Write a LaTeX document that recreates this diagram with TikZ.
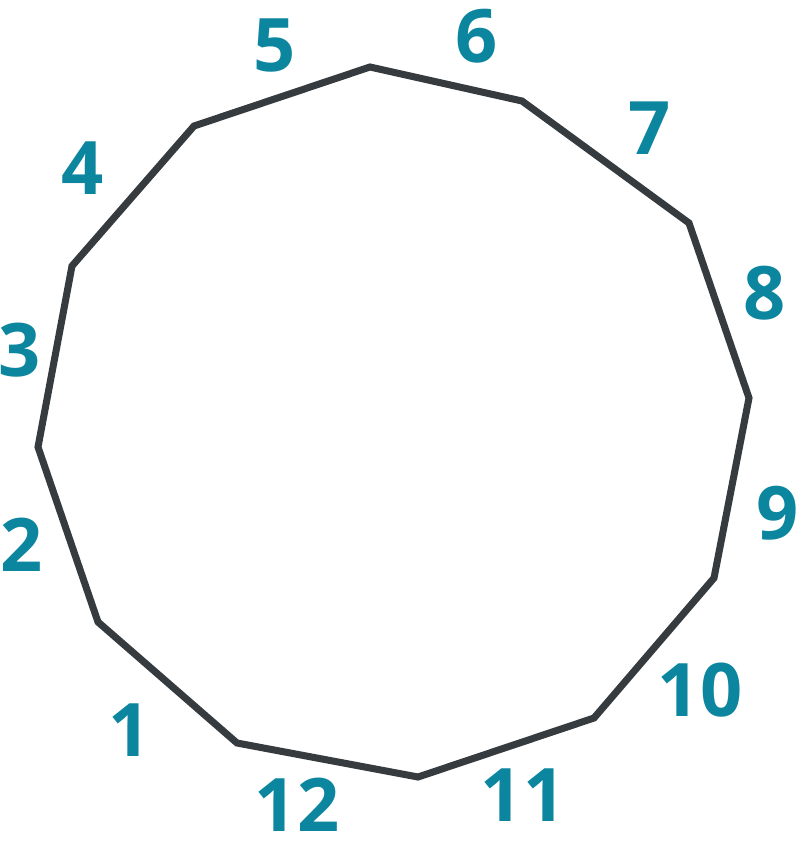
\documentclass[tikz,border=0pt]{standalone}
\usepackage{fontspec}
\setmainfont{Open Sans}
\usetikzlibrary{positioning}
\definecolor{EdgeGray}{HTML}{353B3E}
\definecolor{LabelTeal}{HTML}{0B869E}
\tikzset{
    % Polygon outline
    edgeline/.style={
        draw=EdgeGray,
        line width=2pt,
        line join=miter
    },
    % Edge number
    edgelabel/.style={
        text=LabelTeal,
        font=\fontsize{21}{24}\selectfont\bfseries,
        inner sep=0pt
    }
}
\begin{document}
\begin{tikzpicture}[x=0.01cm, y=-0.01cm]
        \useasboundingbox (0,0) rectangle (800,851);

        % Vertices
        \coordinate (va) at (370,67);
        \coordinate (vb) at (522,101);
        \coordinate (vc) at (689,223);
        \coordinate (vd) at (749,398);
        \coordinate (ve) at (714,578);
        \coordinate (vf) at (594,718);
        \coordinate (vg) at (418,777);
        \coordinate (vh) at (237,743);
        \coordinate (vi) at (98,622);
        \coordinate (vj) at (38,447);
        \coordinate (vk) at (72,266);
        \coordinate (vl) at (194,126);

        % Outline
        \draw[edgeline] (va) -- (vb) -- (vc) -- (vd) -- (ve) -- (vf) -- (vg)
            -- (vh) -- (vi) -- (vj) -- (vk) -- (vl) -- cycle;

        % Edge numbers
        \node[edgelabel] (n1) at (130,730) {1};
        \node[edgelabel] (n2) at (22,545) {2};
        \node[edgelabel] (n3) at (20,350) {3};
        \node[edgelabel] (n4) at (83,168) {4};
        \node[edgelabel] (n5) at (275,45) {5};
        \node[edgelabel] (n6) at (477,36) {6};
        \node[edgelabel] (n7) at (650,128) {7};
        \node[edgelabel] (n8) at (765,293) {8};
        \node[edgelabel] (n9) at (778,513) {9};
        \node[edgelabel] (n10) at (700,690) {10};
        \node[edgelabel] (n11) at (523,795) {11};
        \node[edgelabel] (n12) at (297,805) {12};
\end{tikzpicture}
\end{document}
